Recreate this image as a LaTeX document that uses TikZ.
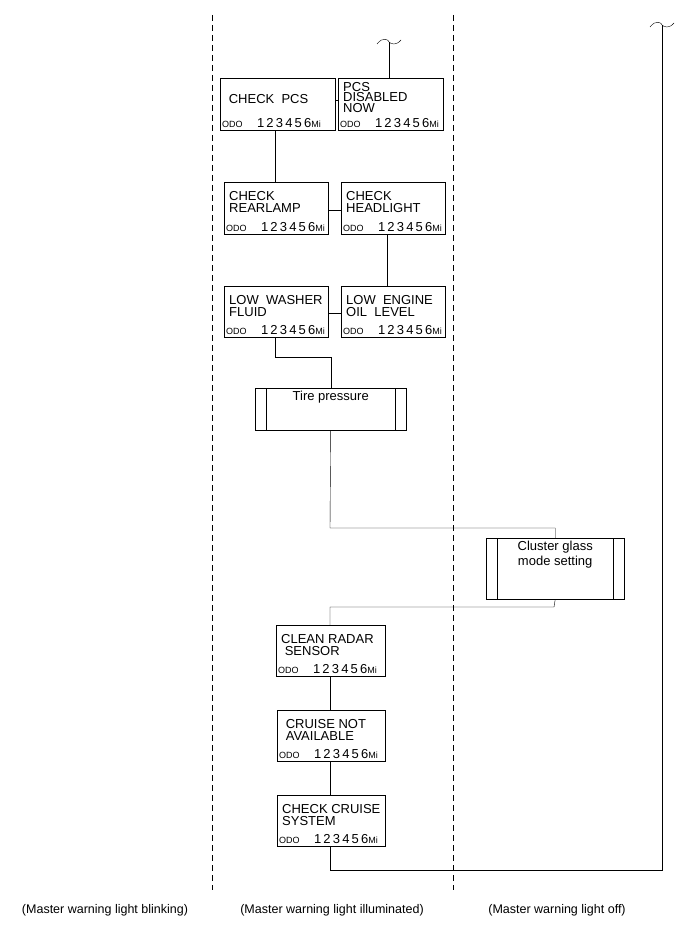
\documentclass[tikz,border=0pt]{standalone}
\usepackage{fontspec}
\setmainfont{Liberation Sans}
\usetikzlibrary{positioning, calc}

% message box: name, left, top, width, height, text, text drop
\newcommand{\msgbox}[7]{%
  \node[msg, minimum width=#4pt, minimum height=#5pt, anchor=north west] (#1) at (#2,#3) {};
  \node[msgtxt, anchor=north west] at ($(#1.north west)+(5pt,-#7pt)$) {#6};
  \node[anchor=south west, inner sep=1pt] at ($(#1.south west)+(1pt,2pt)$)
    {\fontsize{9}{9}\selectfont ODO\hspace{1.6em}\fontsize{13}{12}\selectfont 1\,2\,3\,4\,5\,6\fontsize{9}{9}\selectfont Mi};
}
% sub-process box: name, left, top, width, height, text
\newcommand{\procbox}[6]{%
  \node[msg, minimum width=#4pt, minimum height=#5pt, anchor=north west] (#1) at (#2,#3) {};
  \draw[thin] ($(#1.north west)+(11pt,0)$) -- ($(#1.south west)+(11pt,0)$);
  \draw[thin] ($(#1.north east)+(-11pt,0)$) -- ($(#1.south east)+(-11pt,0)$);
  \node[proctxt, anchor=north] at ($(#1.north)+(0,-2pt)$) {#6};
}

\begin{document}
\begin{tikzpicture}[x=1pt, y=-1pt,
    msg/.style={draw, thin, inner sep=0pt},
    msgtxt/.style={inner sep=0pt, align=left, font=\fontsize{13}{12}\selectfont},
    proctxt/.style={inner sep=1pt, align=center, font=\fontsize{13}{15}\selectfont},
    link/.style={thin},
    column/.style={thin, dash pattern=on 6pt off 4pt},
    caption/.style={font=\fontsize{12.5}{14}\selectfont}]
  \useasboundingbox (0,0) rectangle (691,952);

  % columns
  \draw[column] (212,15) -- (212,890);
  \draw[column] (453,15) -- (453,890);
  \node[caption] (cap1) at (105,910) {(Master warning light blinking)};
  \node[caption] (cap2) at (332,910) {(Master warning light illuminated)};
  \node[caption] (cap3) at (557,910) {(Master warning light off)};

  % messages
  \msgbox{pcs}{220}{78}{115}{52}{\ CHECK\ \ PCS}{16}
  \msgbox{pcsoff}{338}{78}{105}{52}{PCS\\[-1.5pt]DISABLED\\[-1.5pt]NOW}{4}
  \msgbox{rear}{224}{182}{104}{52}{CHECK\\REARLAMP}{9}
  \msgbox{head}{341}{182}{104}{52}{CHECK\\HEADLIGHT}{9}
  \msgbox{washer}{224}{286}{104}{51}{LOW\ \ WASHER\\FLUID}{9}
  \msgbox{oil}{341}{286}{104}{51}{LOW\ \ ENGINE\\OIL\ \ LEVEL}{9}
  \procbox{tire}{255}{388}{151}{42}{Tire pressure}
  \procbox{glass}{486}{538}{138}{61}{Cluster glass\\mode setting}
  \msgbox{radar}{276}{625}{109}{51}{CLEAN RADAR\\\ SENSOR}{9}
  \msgbox{cruise}{277}{710}{108}{51}{\ CRUISE NOT\\\ AVAILABLE}{9}
  \msgbox{chk}{277}{795}{108}{51}{CHECK CRUISE\\SYSTEM}{9}

  % continuation marks
  \coordinate (topA) at (389,42);
  \coordinate (topB) at (662,25);
  \draw (377,44) .. controls (383,36) and (389,40) .. (389,42) .. controls (391,44) and (396,46) .. (401,40);
  \draw (650,27) .. controls (656,19) and (662,23) .. (662,25) .. controls (664,27) and (669,29) .. (674,23);

  % connectors
  \draw[link] (topA) -- (pcsoff.north -| topA);
  \draw[link] (pcs.east |- 0,100) -- (pcsoff.west |- 0,100);
  \draw[link] (pcs.south -| 275,0) -- (rear.north -| 275,0);
  \draw[link] (rear.east |- 0,210) -- (head.west |- 0,210);
  \draw[link] (head.south -| 387,0) -- (oil.north -| 387,0);
  \draw[link] (washer.east |- 0,313) -- (oil.west |- 0,313);
  \draw[link] (washer.south -| 275,0) -- (275,357) -| (tire.north);
  \draw[link] (tire.south) -- (330,528) -| (glass.north);
  \draw[link] (glass.south) -- (554,607) -| (radar.north -| 330,0);
  \draw[link] (radar.south -| 330,0) -- (cruise.north -| 330,0);
  \draw[link] (cruise.south -| 330,0) -- (chk.north -| 330,0);
  \draw[link] (chk.south -| 330,0) -- (330,870) -| (topB);
\end{tikzpicture}
\end{document}
